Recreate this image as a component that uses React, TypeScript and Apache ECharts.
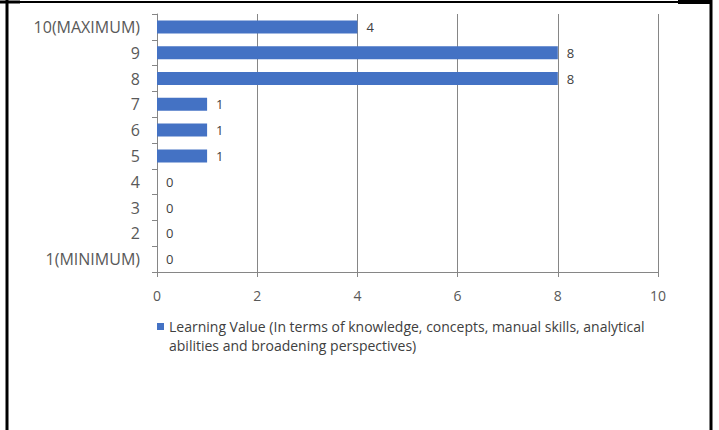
import React, { useEffect, useRef } from "react";
import * as echarts from "echarts";

const categories = ["1(MINIMUM)", "2", "3", "4", "5", "6", "7", "8", "9", "10(MAXIMUM)"];
const values = [0, 0, 0, 0, 1, 1, 1, 8, 8, 4];
const seriesName =
  "Learning Value (In terms of knowledge, concepts, manual skills, analytical\nabilities and broadening perspectives)";
const xMin = 0;
const xMax = 10;
const xInterval = 2;

export default function App() {
  const ref = useRef<HTMLDivElement>(null);
  useEffect(() => {
    if (!ref.current) return;
    const chart = echarts.init(ref.current, null, { renderer: "svg" });
    const font = "Open Sans";
    const axisGray = "#868686";
    chart.setOption({
      animation: false,
      backgroundColor: "#ffffff",
      textStyle: { fontFamily: font },
      grid: { left: 157, right: 61, top: 14, bottom: 158, containLabel: false },
      legend: {
        left: 152,
        top: 293,
        itemWidth: 7,
        itemHeight: 7,
        icon: "rect",
        formatter: (name: string) => "\n" + name,
        textStyle: {
          fontFamily: font,
          fontSize: 14,
          color: "#404040",
          lineHeight: 19,
        },
        data: [seriesName],
      },
      xAxis: {
        type: "value",
        min: xMin,
        max: xMax,
        interval: xInterval,
        axisLine: { show: true, lineStyle: { color: axisGray, width: 1 } },
        axisTick: { show: true, length: 5, lineStyle: { color: axisGray } },
        splitLine: { show: true, lineStyle: { color: axisGray, width: 1 } },
        axisLabel: { fontFamily: font, fontSize: 14, color: "#595959", margin: 16 },
      },
      yAxis: {
        type: "category",
        data: categories,
        axisLine: { show: true, lineStyle: { color: axisGray, width: 1 } },
        axisTick: { show: true, length: 5, lineStyle: { color: axisGray } },
        axisLabel: { fontFamily: font, fontSize: 16, color: "#595959", margin: 17 },
      },
      series: [
        {
          name: seriesName,
          type: "bar",
          data: values,
          barWidth: 13,
          itemStyle: { color: "#4472C4" },
          label: {
            show: true,
            position: "right",
            distance: 9,
            fontFamily: font,
            fontSize: 13,
            color: "#404040",
          },
        },
      ],
      graphic: [
        { type: "line", shape: { x1: 7, y1: 0, x2: 7, y2: 430 }, style: { stroke: "#000", lineWidth: 3 } },
        { type: "line", shape: { x1: 0, y1: 2, x2: 20, y2: 2 }, style: { stroke: "#000", lineWidth: 3 } },
        { type: "line", shape: { x1: 20, y1: 2, x2: 678, y2: 2 }, style: { stroke: "#000", lineWidth: 2 } },
        { type: "line", shape: { x1: 678, y1: 2, x2: 712, y2: 2 }, style: { stroke: "#000", lineWidth: 4 } },
        { type: "line", shape: { x1: 711, y1: 0, x2: 711, y2: 430 }, style: { stroke: "#000", lineWidth: 3 } },
      ],
    });
    return () => chart.dispose();
  }, []);
  return (
    <div
      ref={ref}
      style={{ position: "absolute", left: 0, top: 0, width: 719, height: 430 }}
    />
  );
}
